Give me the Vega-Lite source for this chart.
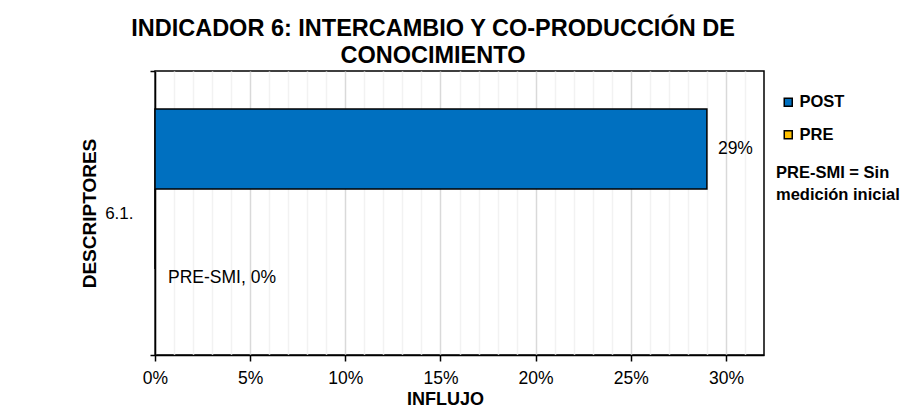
{
  "$schema": "https://vega.github.io/schema/vega-lite/v6.json",
  "width": 609,
  "height": 284,
  "autosize": {"type": "none"},
  "padding": {"left": 155, "top": 71, "right": 144, "bottom": 62},
  "background": "white",
  "config": {
    "font": "Liberation Sans",
    "view": {"stroke": "#000", "strokeWidth": 1.5}
  },
  "title": {
    "text": ["INDICADOR 6: INTERCAMBIO Y CO-PRODUCCIÓN DE", "CONOCIMIENTO"],
    "font": "Liberation Sans",
    "fontSize": 23.5,
    "fontWeight": "bold",
    "color": "#000",
    "lineHeight": 27,
    "anchor": "middle",
    "dx": -26.5,
    "dy": 30,
    "offset": 6,
    "baseline": "alphabetic"
  },
  "data": {
    "values": [
      {"descriptor": "6.1.", "serie": "POST", "influjo": 0.29, "etiqueta": "29%"},
      {"descriptor": "6.1.", "serie": "PRE", "influjo": 0, "etiqueta": "PRE-SMI, 0%"}
    ]
  },
  "encoding": {
    "y": {
      "field": "descriptor",
      "type": "nominal",
      "scale": {"paddingInner": 0, "paddingOuter": 0},
      "axis": {
        "title": "DESCRIPTORES",
        "titleFontSize": 19,
        "titleFontWeight": "bold",
        "titleColor": "#000",
        "titleX": -66,
        "titleY": 142,
        "titleAlign": "center",
        "titleBaseline": "middle",
        "labelFontSize": 17,
        "labelColor": "#000",
        "labelAngle": 0,
        "labelPadding": 17,
        "tickBand": "extent",
        "tickSize": 5,
        "tickColor": "#000",
        "tickWidth": 1.5,
        "domainColor": "#000",
        "domainWidth": 1.5,
        "grid": false
      }
    },
    "yOffset": {
      "field": "serie",
      "type": "nominal",
      "scale": {"domain": ["POST", "PRE"], "paddingInner": 0, "paddingOuter": 0.775, "align": 0.306}
    },
    "x": {
      "field": "influjo",
      "type": "quantitative",
      "scale": {"domain": [0, 0.32], "nice": false, "zero": true},
      "axis": {
        "values": [0, 0.01, 0.02, 0.03, 0.04, 0.05, 0.06, 0.07, 0.08, 0.09, 0.1, 0.11, 0.12, 0.13, 0.14, 0.15, 0.16, 0.17, 0.18, 0.19, 0.2, 0.21, 0.22, 0.23, 0.24, 0.25, 0.26, 0.27, 0.28, 0.29, 0.3, 0.31],
        "labelExpr": "round(datum.value*100) % 5 === 0 ? format(datum.value, '.0%') : ''",
        "labelOverlap": false,
        "labelFlush": false,
        "labelFontSize": 17.5,
        "labelColor": "#000",
        "labelPadding": 8,
        "grid": true,
        "gridColor": {"condition": {"test": "round(datum.value*100) % 5 === 0", "value": "#d9d9d9"}, "value": "#f2f2f2"},
        "gridWidth": 1.5,
        "tickOpacity": {"condition": {"test": "round(datum.value*100) % 5 !== 0", "value": 0}, "value": 1},
        "tickSize": 6,
        "tickColor": "#000",
        "tickWidth": 1.5,
        "domainColor": "#000",
        "domainWidth": 1.5,
        "title": "INFLUJO",
        "titleFontSize": 18,
        "titleFontWeight": "bold",
        "titleColor": "#000",
        "titleX": 290,
        "titleY": 35,
        "titleAlign": "center",
        "titleBaseline": "top"
      }
    }
  },
  "layer": [
    {
      "mark": {"type": "bar", "stroke": "#000", "strokeWidth": 1.5},
      "encoding": {
        "color": {
          "field": "serie",
          "type": "nominal",
          "scale": {"domain": ["POST", "PRE"], "range": ["#0070C0", "#FFC000"]},
          "legend": {
            "orient": "none",
            "legendX": 621,
            "legendY": 23,
            "padding": 0,
            "title": ["PRE-SMI = Sin", "medición inicial"],
            "titleOrient": "bottom",
            "titleAnchor": "start",
            "titleFontSize": 16.5,
            "titleFontWeight": "bold",
            "titleColor": "#000",
            "titleLineHeight": 22,
            "titlePadding": 22,
            "symbolType": "square",
            "symbolSize": 64,
            "symbolStrokeColor": "#000",
            "symbolStrokeWidth": 1.5,
            "symbolOffset": 4,
            "labelFontSize": 16.5,
            "labelFontWeight": "bold",
            "labelColor": "#000",
            "labelOffset": 3,
            "rowPadding": 15.5
          }
        }
      }
    },
    {
      "transform": [{"filter": "datum.serie === 'POST'"}],
      "mark": {"type": "text", "align": "left", "baseline": "middle", "dx": 11, "fontSize": 17.5, "color": "#000"},
      "encoding": {"text": {"field": "etiqueta", "type": "nominal"}}
    },
    {
      "transform": [{"filter": "datum.serie === 'PRE'"}],
      "mark": {"type": "text", "align": "left", "baseline": "middle", "dx": 13, "dy": 49, "fontSize": 17.5, "color": "#000"},
      "encoding": {"text": {"field": "etiqueta", "type": "nominal"}}
    }
  ]
}
